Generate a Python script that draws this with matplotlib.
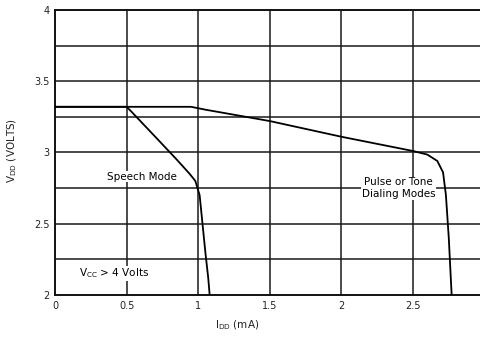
import numpy as np
import matplotlib.pyplot as plt

# curves
speech_i = [0, 0.5, 0.53, 0.7, 0.85, 0.94, 0.98, 1.01, 1.03, 1.05, 1.07, 1.08]
speech_v = [3.32, 3.32, 3.29, 3.11, 2.95, 2.85, 2.8, 2.7, 2.5, 2.3, 2.12, 2.0]
pulse_i = [0, 0.95, 1.05, 1.5, 2.0, 2.5, 2.6, 2.67, 2.71, 2.73, 2.75, 2.77]
pulse_v = [3.32, 3.32, 3.30, 3.22, 3.11, 3.01, 2.985, 2.94, 2.86, 2.7, 2.4, 2.0]

x_ticks = [0, 0.5, 1, 1.5, 2, 2.5]
x_labels = ['0', '0.5', '1', '1.5', '2', '2.5']
y_ticks = [2, 2.5, 3, 3.5, 4]
y_labels = ['2', '2.5', '3', '3.5', '4']
y_grid = [2.25, 2.5, 2.75, 3, 3.25, 3.5, 3.75]

fig = plt.figure(figsize=(4.8, 3.41), dpi=100)
ax = fig.add_axes([0.1146, 0.135, 0.8854, 0.836])

for v in y_grid:
    ax.axhline(v, color='#1a1a1a', lw=1.1, zorder=1)
for i in x_ticks[1:]:
    ax.axvline(i, color='#1a1a1a', lw=1.1, zorder=1)

ax.plot(speech_i, speech_v, color='black', lw=1.3, zorder=3)
ax.plot(pulse_i, pulse_v, color='black', lw=1.3, zorder=3)

ax.set_xlim(0, 2.968)
ax.set_ylim(2, 4)
ax.set_xticks(x_ticks)
ax.set_xticklabels(x_labels)
ax.set_yticks(y_ticks)
ax.set_yticklabels(y_labels)
ax.tick_params(length=0, labelsize=7, colors='#222222', pad=4)
ax.spines['right'].set_visible(False)
for s in ['left', 'top', 'bottom']:
    ax.spines[s].set_linewidth(1.4)
    ax.spines[s].set_color('#111111')

ax.text(0.61, 2.83, 'Speech Mode', fontsize=7.5, ha='center', va='center', zorder=4,
        bbox=dict(fc='white', ec='none', pad=0.5))
ax.text(2.4, 2.75, 'Pulse or Tone\nDialing Modes', fontsize=7.5, ha='center', va='center',
        linespacing=1.2, zorder=4, bbox=dict(fc='white', ec='none', pad=0.5))
ax.text(0.17, 2.15, r'V$_{\mathregular{CC}}$ > 4 Volts', fontsize=7.5, ha='left', va='center',
        zorder=4, bbox=dict(fc='white', ec='none', pad=0.5))

fig.text(0.025, 0.56, r'V$_{\mathregular{DD}}$ (VOLTS)', rotation=90, fontsize=7.5,
         ha='center', va='center', color='#222222')
fig.text(0.495, 0.045, r'I$_{\mathregular{DD}}$ (mA)', fontsize=7.5, ha='center',
         va='center', color='#222222')

fig.savefig('out.png', dpi=100)
